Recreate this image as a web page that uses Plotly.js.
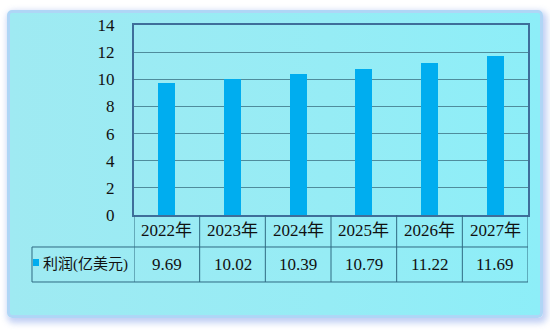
<!DOCTYPE html>
<html><head><meta charset="utf-8">
<script src="https://cdn.plot.ly/plotly-3.0.1.min.js"></script>
<style>
html,body{margin:0;padding:0;background:#fff;width:550px;height:330px;overflow:hidden;}
#frame{position:absolute;left:7px;top:10px;width:530px;height:302px;border:3px solid #AFD6F6;border-radius:5px;
background:linear-gradient(90deg,#9FEAF2 0%,#96ECF5 60%,#8DEEF8 100%);box-shadow:2px 3px 6px 2px rgba(120,150,230,0.45);}
#chart{position:absolute;left:0;top:0;width:550px;height:330px;}
</style></head>
<body>
<div id="frame"></div>
<div id="chart"></div>
<script>
const categories = ["2022年","2023年","2024年","2025年","2026年","2027年"];
const seriesName = "利润(亿美元)";
const profit = [9.69, 10.02, 10.39, 10.79, 11.22, 11.69];
const valueLabels = ["9.69","10.02","10.39","10.79","11.22","11.69"];

const fontFam = 'Liberation Sans Narrow, Liberation Serif, Noto Sans CJK SC, sans-serif';
const lineCol = '#2F6A82';
const annotations = [];
const shapes = [];
const headerY = -0.084, rowY = -0.263, rowTop = -0.1684, rowBot = -0.3526, tableLeft = -0.2589;

categories.forEach((c, i) => {
  annotations.push({x: c, xref: 'x', y: headerY, yref: 'paper', text: c, showarrow: false,
    font: {family: fontFam, size: 17, color: '#111'}, yanchor: 'middle'});
  annotations.push({x: c, xref: 'x', y: rowY, yref: 'paper', text: valueLabels[i], showarrow: false,
    font: {family: fontFam, size: 17, color: '#111'}, yanchor: 'middle'});
});
annotations.push({x: -0.236, xref: 'paper', y: rowY, yref: 'paper', text: seriesName, showarrow: false,
  xanchor: 'left', yanchor: 'middle', font: {family: fontFam, size: 15, color: '#111'}});

for (let i = 0; i <= categories.length; i++) {
  shapes.push({type: 'line', xref: 'x', yref: 'paper', x0: i - 0.5, x1: i - 0.5, y0: 0, y1: rowBot,
    line: {color: lineCol, width: 1}});
}
shapes.push({type: 'line', xref: 'paper', yref: 'paper', x0: tableLeft, x1: 1, y0: rowTop, y1: rowTop, line: {color: lineCol, width: 1}});
shapes.push({type: 'line', xref: 'paper', yref: 'paper', x0: tableLeft, x1: 1, y0: rowBot, y1: rowBot, line: {color: lineCol, width: 1}});
shapes.push({type: 'line', xref: 'paper', yref: 'paper', x0: tableLeft, x1: tableLeft, y0: rowTop, y1: rowBot, line: {color: lineCol, width: 1}});
shapes.push({type: 'rect', xref: 'paper', yref: 'paper', x0: -0.2563, x1: -0.2411, y0: -0.2316, y1: -0.2684,
  fillcolor: '#00ADEF', line: {width: 0}});

const data = [{type: 'bar', x: categories, y: profit, width: 0.26, marker: {color: '#00ADEF'}, name: seriesName, hoverinfo: 'none'}];
const layout = {
  width: 550, height: 330,
  margin: {l: 134, r: 22, t: 25, b: 115},
  paper_bgcolor: 'rgba(0,0,0,0)', plot_bgcolor: 'rgba(0,0,0,0)',
  showlegend: false,
  font: {family: fontFam},
  bargap: 0,
  xaxis: {type: 'category', range: [-0.5, 5.5], showticklabels: false, showgrid: false, zeroline: false,
    showline: true, linecolor: '#3E6E9A', linewidth: 2, mirror: true, fixedrange: true},
  yaxis: {range: [0, 14], dtick: 2, tick0: 0, showgrid: true, gridcolor: '#4F8C9C', gridwidth: 1, zeroline: false,
    showline: true, linecolor: '#3E6E9A', linewidth: 2, mirror: true, ticks: '', ticklabelstandoff: 14,
    tickfont: {family: fontFam, size: 17, color: '#111'}, fixedrange: true},
  annotations: annotations,
  shapes: shapes
};
Plotly.newPlot('chart', data, layout, {staticPlot: true, displayModeBar: false});
</script>
</body></html>
